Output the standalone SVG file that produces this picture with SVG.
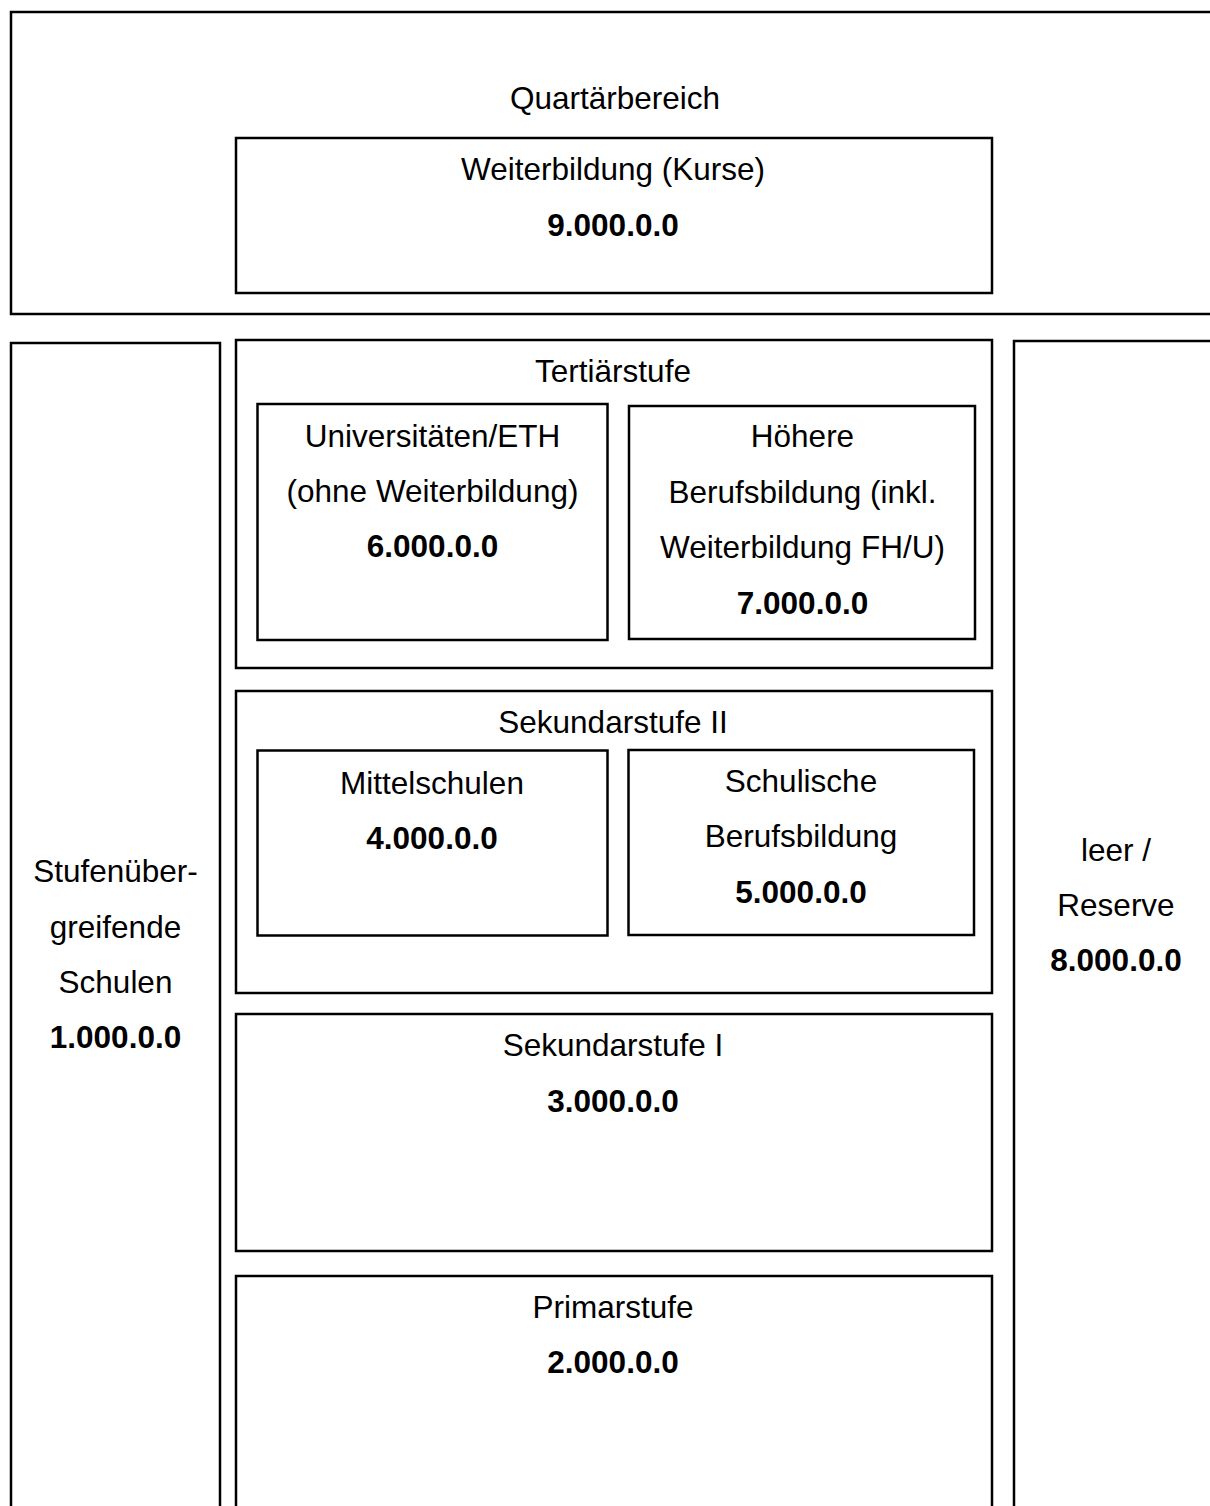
<svg xmlns="http://www.w3.org/2000/svg" width="1210" height="1506" viewBox="0 0 1210 1506">
<style>
rect{fill:none;stroke:#000;stroke-width:2.5}
text{font-family:"Liberation Sans",Arial,sans-serif;font-size:31.5px;fill:#000;text-anchor:middle}
.b{font-weight:bold}
</style>
<rect x="0" y="0" width="1210" height="1506" style="fill:#fff;stroke:none"/>
<g id="quartaer">
<rect x="11" y="12" width="1210" height="302"/>
<text x="615" y="109">Quartärbereich</text>
</g>
<g id="weiterbildung">
<rect x="236" y="138" width="756" height="155"/>
<text x="613" y="180">Weiterbildung (Kurse)</text>
<text class="b" x="613" y="236">9.000.0.0</text>
</g>
<g id="stufenuebergreifend">
<rect x="11" y="343" width="209" height="1200"/>
<text x="115.5" y="882">Stufenüber-</text>
<text x="115.5" y="938">greifende</text>
<text x="115.5" y="993">Schulen</text>
<text class="b" x="115.5" y="1048">1.000.0.0</text>
</g>
<g id="tertiaer">
<rect x="236" y="340" width="756" height="328"/>
<text x="613" y="382">Tertiärstufe</text>
</g>
<g id="universitaeten">
<rect x="257.5" y="404" width="350" height="236"/>
<text x="432.5" y="447">Universitäten/ETH</text>
<text x="432.5" y="502">(ohne Weiterbildung)</text>
<text class="b" x="432.5" y="557">6.000.0.0</text>
</g>
<g id="hoehere">
<rect x="629" y="406" width="346" height="233"/>
<text x="802.5" y="447">Höhere</text>
<text x="802.5" y="502.5">Berufsbildung (inkl.</text>
<text x="802.5" y="558">Weiterbildung FH/U)</text>
<text class="b" x="802.5" y="613.5">7.000.0.0</text>
</g>
<g id="sek2">
<rect x="236" y="691" width="756" height="302"/>
<text x="613" y="733">Sekundarstufe II</text>
</g>
<g id="mittelschulen">
<rect x="257.5" y="750.5" width="350" height="185"/>
<text x="432" y="794">Mittelschulen</text>
<text class="b" x="432" y="849">4.000.0.0</text>
</g>
<g id="berufsbildung">
<rect x="628.5" y="750" width="345.5" height="185"/>
<text x="801" y="792">Schulische</text>
<text x="801" y="847">Berufsbildung</text>
<text class="b" x="801" y="902.5">5.000.0.0</text>
</g>
<g id="sek1">
<rect x="236" y="1014" width="756" height="237"/>
<text x="613" y="1056">Sekundarstufe I</text>
<text class="b" x="613" y="1112">3.000.0.0</text>
</g>
<g id="primar">
<rect x="236" y="1276" width="756" height="300"/>
<text x="613" y="1318">Primarstufe</text>
<text class="b" x="613" y="1373">2.000.0.0</text>
</g>
<g id="reserve">
<rect x="1014" y="341" width="210" height="1200"/>
<text x="1116" y="861">leer /</text>
<text x="1116" y="916">Reserve</text>
<text class="b" x="1116" y="971">8.000.0.0</text>
</g>
<g id="connectors"></g>
</svg>
